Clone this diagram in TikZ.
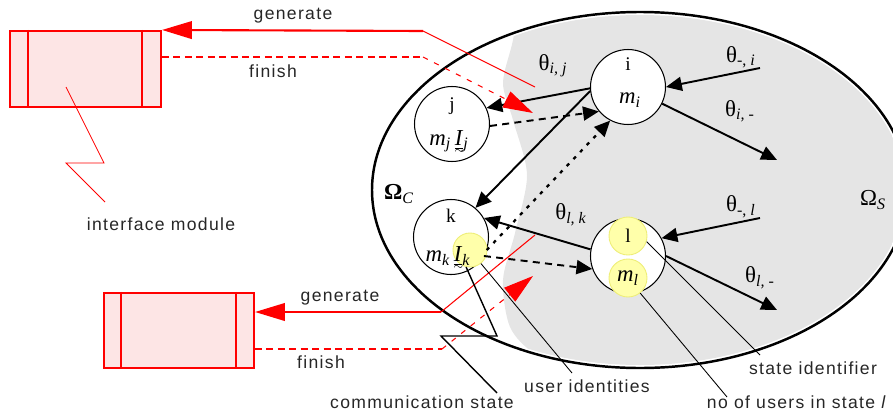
\documentclass[tikz,border=0pt]{standalone}
\usepackage{amsmath}
\usepackage{fontspec}
\setmainfont{Liberation Serif}
\newfontfamily\lblfont[LetterSpace=7.5]{Liberation Sans}
\usetikzlibrary{arrows.meta,calc,positioning}
\definecolor{ModFill}{HTML}{FDE5E5}
\definecolor{SysGray}{HTML}{E5E5E5}
\definecolor{IdYellow}{HTML}{FFFFAA}
\definecolor{IdEdge}{HTML}{EEEE77}
\newcommand{\thlab}[1]{θ\textsubscript{#1}}
\newcommand{\mv}[2]{\textit{#1}\textsubscript{\itshape #2}}
\newcommand{\vecI}[1]{\underline{\textit{I}}\kern-0.4em\raisebox{-0.75ex}{$\scriptscriptstyle\sim$}\kern-0.05em\textsubscript{\itshape #1}}

\begin{document}
\begin{tikzpicture}[x=0.02cm,y=0.02cm,
  state/.style={circle,draw,line width=0.6pt,fill=white,minimum size=1.5cm,inner sep=0pt},
  idmark/.style={circle,draw=IdEdge,fill=IdYellow,line width=0.5pt,inner sep=0pt},
  module/.style={draw=red,fill=ModFill,line width=1.2pt,inner sep=0pt},
  sigline/.style={red,line width=1.2pt},
  sigthin/.style={red,line width=0.6pt},
  sighead/.style={-{Triangle[length=17pt,width=10pt]}},
  flow/.style={line width=1.1pt,-{Triangle[length=9pt,width=8pt]}},
  dashflow/.style={flow,dash pattern=on 4pt off 3pt},
  dotflow/.style={flow,line width=1.3pt,dash pattern=on 2pt off 3.5pt},
  pointer/.style={line width=0.5pt},
  lbl/.style={font=\lblfont\fontsize{10}{12}\selectfont,text=black!85},
  rate/.style={font=\fontsize{13}{15}\selectfont,inner sep=1pt},
  stname/.style={font=\fontsize{11}{13}\selectfont,inner sep=1pt}]
\useasboundingbox (0,0) rectangle (893,414);

% system part (grey)
\begin{scope}
  \clip (640,224) ellipse [x radius=265, y radius=175];
  \fill[SysGray] plot[smooth] coordinates {(520,420) (513,374) (503,331) (513,294) (527,239) (515,181) (503,134) (510,87) (535,60) (580,40)}
    -- (580,-10) -- (920,-10) -- (920,420) -- cycle;
\end{scope}
\draw[line width=1.4pt] (640,224) ellipse [x radius=268, y radius=178];
\node[font=\fontsize{13}{15}\selectfont] (omc) at (399,220) {\textbf{Ω}\textsubscript{\itshape C}};
\node[font=\fontsize{13}{15}\selectfont] (oms) at (873,214) {Ω\textsubscript{\itshape S}};

% states
\node[state] (i) at (628,327) {};
\node[state] (j) at (452,290) {};
\node[state] (k) at (451,177) {};
\node[state] (l) at (628,158) {};
\node[idmark,minimum size=0.68cm] (Ik) at (470,164) {};
\node[idmark,minimum size=0.76cm] (idl) at (628,178) {};
\node[idmark,minimum size=0.76cm] (idm) at (628,136) {};

\node[stname] (ni) at (628,350) {i};
\node[rate] (mi) at (630,314) {\mv{m}{i}};
\node[stname] (nj) at (452,308) {j};
\node[rate] (mj) at (449,272) {\mv{m}{j}\,\vecI{j}};
\node[stname] (nk) at (451,198) {k};
\node[rate] (mk) at (448,156) {\mv{m}{k}\,\vecI{k}};
\node[stname] (nl) at (628,178) {l};
\node[rate] (ml) at (628,136) {\mv{m}{l}};

% transitions
\coordinate (ini) at (760,346);
\coordinate (outi) at (777,254);
\coordinate (inl) at (760,196);
\coordinate (outl) at (777,104);
\draw[flow] (i.182) -- (j.25);
\draw[flow] (i.186) -- (k.50);
\draw[dashflow] (j.357) -- (i.220);
\draw[dotflow] (k.340) -- (i.242);
\draw[flow] (l.170) -- (k.30);
\draw[dashflow] (k.330) -- (l.200);
\draw[flow] (ini) -- (i.0);
\draw[flow] (i.334) -- (outi);
\draw[flow] (inl) -- (l.28);
\draw[flow] (l.0) -- (outl);
\node[rate] (tij) at (553,348) {\thlab{\itshape i, j}};
\node[rate] (tmi) at (741,357) {\thlab{-, \itshape i}};
\node[rate] (tim) at (740,303) {\thlab{\itshape i, \upshape -}};
\node[rate] (tlk) at (571,199) {\thlab{\itshape l, k}};
\node[rate] (tml) at (741,207) {\thlab{-, \itshape l}};
\node[rate] (tlm) at (760,136) {\thlab{\itshape l, \upshape -}};

% interface modules
\node[module,minimum width=3.02cm,minimum height=1.52cm] (modA) at (85.5,345) {};
\draw[sigline] ($(modA.north west)+(19,0)$) -- ($(modA.south west)+(19,0)$);
\draw[sigline] ($(modA.north east)+(-20,0)$) -- ($(modA.south east)+(-20,0)$);
\node[module,minimum width=3.0cm,minimum height=1.5cm] (modB) at (179,83.5) {};
\draw[sigline] ($(modB.north west)+(18,0)$) -- ($(modB.south west)+(18,0)$);
\draw[sigline] ($(modB.north east)+(-19,0)$) -- ($(modB.south east)+(-19,0)$);

\coordinate (genAin) at (535,327);
\coordinate (genAbend) at (423,383);
\coordinate (finAbend) at (423,357);
\coordinate (finAend) at (533,301);
\draw[sigthin] (genAin) -- (genAbend);
\draw[sigline,sighead] (genAbend) -- (modA.north east);
\draw[sigline,dash pattern=on 4pt off 2.5pt] (modA.east |- finAbend) -- (finAbend);
\draw[sigthin,dash pattern=on 3pt off 4pt,sighead] (finAbend) -- (finAend);
\node[lbl] (genA) at (293,398) {generate};
\node[lbl] (finA) at (273,343) {finish};

\coordinate (genBin) at (535,179);
\coordinate (genBbend) at (441,102);
\coordinate (finBbend) at (442,65);
\coordinate (finBend) at (533,138);
\draw[sigthin] (genBin) -- (genBbend);
\draw[sigline,sighead] (genBbend) -- (modB.east |- genBbend);
\draw[sigline,dash pattern=on 4pt off 2.5pt] (modB.east |- finBbend) -- (finBbend);
\draw[sigthin,dash pattern=on 3pt off 4pt,sighead] (finBbend) -- (finBend);
\node[lbl] (genB) at (340,116) {generate};
\node[lbl] (finB) at (321,52) {finish};

% callouts
\draw[red,pointer] (66,327) -- (104,251) -- (66,251) -- (105,212);
\node[lbl] (iflab) at (161,190) {interface module};
\draw[pointer,line width=0.8pt] (Ik.257) -- (497,78) -- (441,78) -- (497,21);
\node[lbl] (comlab) at (422,12) {communication state};
\draw[pointer] (Ik.-51) -- (572,41);
\node[lbl] (uidlab) at (587,28) {user identities};
\draw[pointer] (idl.-17) -- (760,59);
\node[lbl] (sidlab) at (813,46) {state identifier};
\draw[pointer] (idm.-51) -- (727,17);
\node[lbl] (nolab) at (797,12) {no of users in state \textit{l}};
\end{tikzpicture}
\end{document}
